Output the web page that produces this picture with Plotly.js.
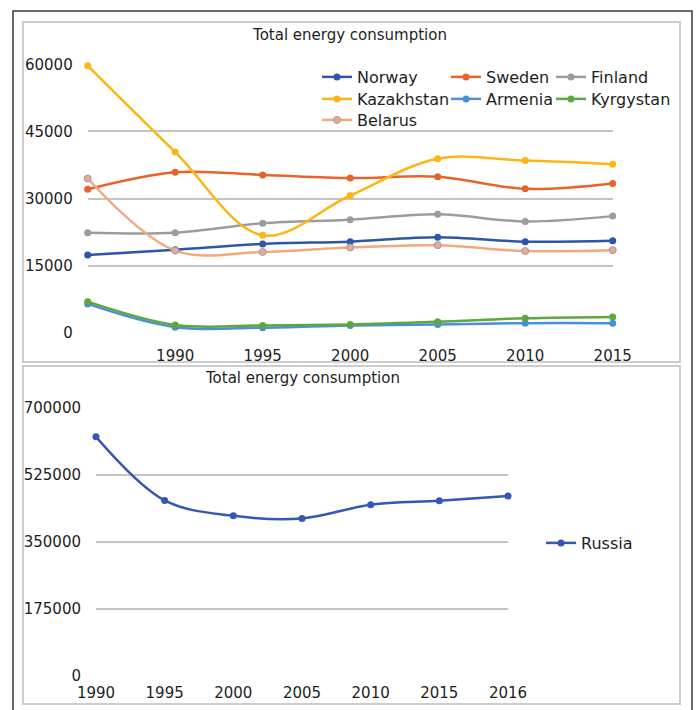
<!DOCTYPE html>
<html>
<head>
<meta charset="utf-8">
<script src="https://cdn.plot.ly/plotly-3.0.1.min.js"></script>
<style>html,body{margin:0;padding:0;background:#fff;}#chart{width:698px;height:710px;}</style>
</head>
<body>
<div id="chart"></div>
<script>
// ---- Top chart data ----
const topYears = ['1985', '1990', '1995', '2000', '2005', '2010', '2015'];
const topTickLabels = ['', '1990', '1995', '2000', '2005', '2010', '2015'];
const norway     = [17400, 18600, 19900, 20400, 21400, 20400, 20600];
const sweden     = [32100, 35900, 35300, 34600, 34900, 32200, 33400];
const finland    = [22400, 22400, 24500, 25300, 26500, 24900, 26100];
const kazakhstan = [59700, 40400, 21800, 30700, 38900, 38500, 37700];
const armenia    = [6500, 1300, 1200, 1700, 1900, 2200, 2200];
const kyrgystan  = [7000, 1800, 1700, 1900, 2500, 3300, 3600];
const belarus    = [34500, 18400, 18100, 19100, 19600, 18300, 18500];
const topYTicks  = [0, 15000, 30000, 45000, 60000];

// ---- Bottom chart data ----
const russiaYears = ['1990', '1995', '2000', '2005', '2010', '2015', '2016'];
const russia      = [623600, 457700, 417700, 410800, 446400, 456800, 469000];
const botYTicks   = [0, 175000, 350000, 525000, 700000];

const W = 698, H = 710;
const px = v => v / W;
const py = v => 1 - v / H;
const FONT = 'DejaVu Sans, Verdana, sans-serif';

function series(name, x, y, color, legend, xa, ya, extraMarker) {
  return {
    type: 'scatter', mode: 'lines+markers', name: name, x: x, y: y,
    xaxis: xa, yaxis: ya, legend: legend, cliponaxis: false,
    line: {color: color, width: 2.5, shape: 'spline', smoothing: 1},
    marker: Object.assign({color: color, size: 7}, extraMarker || {})
  };
}

const data = [
  series('Norway', topYears, norway, '#2E55A8', 'legend', 'x', 'y'),
  series('Sweden', topYears, sweden, '#E8632B', 'legend2', 'x', 'y'),
  series('Finland', topYears, finland, '#9C9C9C', 'legend3', 'x', 'y'),
  series('Kazakhstan', topYears, kazakhstan, '#FDB515', 'legend4', 'x', 'y'),
  series('Armenia', topYears, armenia, '#4A8FD8', 'legend5', 'x', 'y'),
  series('Kyrgystan', topYears, kyrgystan, '#5DA83E', 'legend6', 'x', 'y'),
  series('Belarus', topYears, belarus, '#F4A880', 'legend7', 'x', 'y', {line: {color: '#8E9CC8', width: 1}}),
  series('Russia', russiaYears, russia, '#3556B4', 'legend8', 'x2', 'y2')
];

const tickFont = {family: FONT, size: 15, color: '#1e1e1e'};
function leg(xText, yCenter) {
  return {
    bgcolor: 'rgba(0,0,0,0)', font: {family: FONT, size: 16, color: '#1e1e1e'},
    xanchor: 'left', yanchor: 'top', orientation: 'v', tracegroupgap: 0, itemwidth: 30,
    x: px(xText - 40), y: py(yCenter - 17)
  };
}

const layout = {
  width: W, height: H,
  margin: {l: 0, r: 0, t: 0, b: 0},
  paper_bgcolor: '#fff', plot_bgcolor: 'rgba(0,0,0,0)',
  font: {family: FONT, color: '#1e1e1e'},
  showlegend: true,
  title: {
    text: 'Total energy consumption', font: {family: FONT, size: 15, color: '#1e1e1e'},
    x: px(350), xanchor: 'center', xref: 'paper', y: py(35), yanchor: 'middle', yref: 'paper'
  },
  xaxis: {
    type: 'category', categoryarray: topYears, range: [0, 6],
    domain: [px(87.7), px(612.7)], anchor: 'y',
    tickvals: topYears, ticktext: topTickLabels,
    showgrid: false, zeroline: false, showline: false, ticks: '',
    tickfont: tickFont, ticklabelstandoff: 12, fixedrange: true
  },
  yaxis: {
    range: [0, 60000], domain: [py(333), py(64.3)], anchor: 'x',
    tickvals: topYTicks, tickformat: 'd',
    showgrid: true, gridcolor: '#C4C4C4', gridwidth: 2, zeroline: false, showline: false,
    ticks: '', tickfont: tickFont, ticklabelstandoff: 14, fixedrange: true
  },
  xaxis2: {
    type: 'category', categoryarray: russiaYears, range: [0, 6],
    domain: [px(96), px(508)], anchor: 'y2',
    showgrid: false, zeroline: false, showline: false, ticks: '',
    tickfont: tickFont, ticklabelstandoff: 6, fixedrange: true
  },
  yaxis2: {
    range: [0, 700000], domain: [py(676), py(407.5)], anchor: 'x2',
    tickvals: botYTicks, tickformat: 'd',
    showgrid: true, gridcolor: '#C4C4C4', gridwidth: 2, zeroline: false, showline: false,
    ticks: '', tickfont: tickFont, ticklabelstandoff: 14, fixedrange: true
  },
  legend:  leg(357, 77),
  legend2: leg(486, 77),
  legend3: leg(591, 77),
  legend4: leg(357, 99),
  legend5: leg(486, 99),
  legend6: leg(591, 99),
  legend7: leg(357, 120),
  legend8: leg(581, 543),
  annotations: [{
    text: 'Total energy consumption', showarrow: false,
    x: px(302), y: py(378), xref: 'paper', yref: 'paper', xanchor: 'center', yanchor: 'middle',
    font: {family: FONT, size: 15, color: '#1e1e1e'}
  }],
  shapes: [
    {type: 'rect', xref: 'paper', yref: 'paper', x0: px(13), x1: px(692), y0: py(725), y1: py(11),
     line: {color: '#3A3A3A', width: 1.5}, layer: 'below'},
    {type: 'rect', xref: 'paper', yref: 'paper', x0: px(23), x1: px(680), y0: py(362), y1: py(22),
     line: {color: '#CDCDCD', width: 2}, layer: 'below'},
    {type: 'rect', xref: 'paper', yref: 'paper', x0: px(23), x1: px(680), y0: py(704), y1: py(366),
     line: {color: '#CDCDCD', width: 2}, layer: 'below'}
  ]
};

Plotly.newPlot('chart', data, layout, {displayModeBar: false, staticPlot: true});
</script>
</body>
</html>
